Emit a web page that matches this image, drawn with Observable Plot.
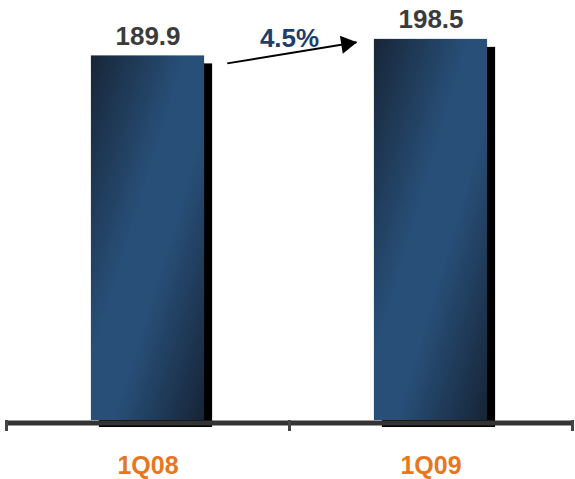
<!DOCTYPE html>
<html>
<head>
<meta charset="utf-8">
<script src="https://cdn.jsdelivr.net/npm/d3@7"></script>
<script src="https://cdn.jsdelivr.net/npm/@observablehq/plot@0.6"></script>
<style>
  body { margin: 0; background: #fff; }
</style>
</head>
<body>
<div id="chart"></div>
<script>
// Quarterly totals
const quarters = ["1Q08", "1Q09"];
const totals = [189.9, 198.5];

// Growth annotation between the two quarters
const growthText = ["4.5%"];
const arrowStart = [0.78, 186];   // [slot position, value]
const arrowEnd = [1.237, 197];
const growthLabelAt = [1.0, 194.3];

const bars = quarters.map((q, i) => ({quarter: q, value: totals[i], x1: i + 0.3, x2: i + 0.7, mid: i + 0.5}));

const font = "'Liberation Sans', Arial, Helvetica, sans-serif";

const chart = Plot.plot({
  width: 575,
  height: 479,
  marginLeft: 6,
  marginRight: 3,
  marginTop: 36,
  marginBottom: 59,
  x: {domain: [0, 2], axis: null},
  y: {domain: [0, 200], axis: null},
  style: {fontFamily: font, background: "#fff", overflow: "visible"},
  marks: [
    // drop shadows behind each bar
    Plot.rect(bars, {x1: "x1", x2: "x2", y1: 0, y2: "value", fill: "#000", dx: 8, dy: 8, insetBottom: 1}),
    // bars with the diagonal navy gradient
    Plot.rect(bars, {x1: "x1", x2: "x2", y1: 0, y2: "value", fill: "url(#barGradient)"}),
    // baseline
    Plot.ruleY([0], {x1: 0, x2: 2, stroke: "#333", strokeWidth: 5, dy: 2.5}),
    // tick marks at slot boundaries
    Plot.axisX({ticks: [0, 1, 2], tickSize: 11, tickFormat: () => "", stroke: "#444", strokeWidth: 3}),
    // value labels
    Plot.text(bars, {x: "mid", y: "value", text: d => d.value.toFixed(1), lineAnchor: "bottom", dy: -11,
      fontSize: 26, fontWeight: "bold", fill: "#3b3b3b"}),
    // quarter labels
    Plot.text(bars, {x: "mid", y: 0, text: "quarter", lineAnchor: "middle", dy: 45,
      fontSize: 25, fontWeight: "bold", fill: "#E8761E"}),
    // growth arrow
    Plot.link([0], {x1: arrowStart[0], y1: arrowStart[1], x2: arrowEnd[0], y2: arrowEnd[1], stroke: "#000", strokeWidth: 2}),
    Plot.dot([0], {x: arrowEnd[0], y: arrowEnd[1], symbol: "triangle", r: 6.8, fill: "#000", stroke: "none",
      rotate: 81, dx: -10, dy: 1.6}),
    Plot.text(growthText, {x: growthLabelAt[0], y: growthLabelAt[1], text: d => d, lineAnchor: "bottom",
      fontSize: 26, fontWeight: "bold", fill: "#1F3E6C"})
  ]
});

// gradient definition referenced by the bars
const ns = "http://www.w3.org/2000/svg";
const defs = document.createElementNS(ns, "defs");
const grad = document.createElementNS(ns, "linearGradient");
grad.setAttribute("id", "barGradient");
grad.setAttribute("x1", "0"); grad.setAttribute("y1", "0");
grad.setAttribute("x2", "1"); grad.setAttribute("y2", "1");
[["0", "#172638"], ["0.42", "#284f78"], ["0.6", "#284f78"], ["1", "#162436"]].forEach(([o, c]) => {
  const s = document.createElementNS(ns, "stop");
  s.setAttribute("offset", o);
  s.setAttribute("stop-color", c);
  grad.appendChild(s);
});
defs.appendChild(grad);
chart.insertBefore(defs, chart.firstChild);

document.getElementById("chart").appendChild(chart);
</script>
</body>
</html>
